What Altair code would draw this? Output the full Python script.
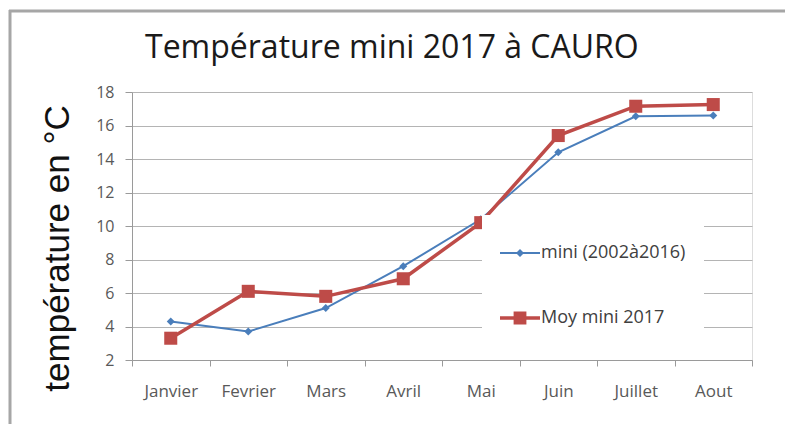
import altair as alt
import pandas as pd

months = ["Janvier", "Fevrier", "Mars", "Avril", "Mai", "Juin", "Juillet", "Aout"]
series_names = ["mini (2002à2016)", "Moy mini 2017"]
mini_2002_2016 = [4.3, 3.7, 5.1, 7.6, 10.4, 14.4, 16.55, 16.6]
moy_mini_2017 = [3.3, 6.1, 5.8, 6.85, 10.2, 15.4, 17.15, 17.25]
y_ticks = [2, 4, 6, 8, 10, 12, 14, 16, 18]
colors = ["#4A7EBB", "#BE4B48"]
widths = [2, 3.5]

rows = []
for m, v in zip(months, mini_2002_2016):
    rows.append({"mois": m, "serie": series_names[0], "valeur": v})
for m, v in zip(months, moy_mini_2017):
    rows.append({"mois": m, "serie": series_names[1], "valeur": v})
df = pd.DataFrame(rows)

FONT_C = "Open Sans"
FONT_A = "Liberation Sans"

# legend symbols: line segment + marker (custom SVG paths)
legend_shapes = [
    "M-1,-0.05H1V0.05H-1Z M0,-0.2L0.2,0L0,0.2L-0.2,0Z",
    "M-1,-0.09H1V0.09H-1Z M-0.32,-0.32H0.32V0.32H-0.32Z",
]

legend = alt.Legend(
    title=None,
    orient="none",
    legendX=350,
    legendY=123,
    fillColor="white",
    padding=18,
    rowPadding=36,
    symbolSize=1600,
    symbolStrokeWidth=0,
    symbolOpacity=1,
    labelOffset=1,
    labelFont=FONT_C,
    labelFontSize=18,
    labelColor="#404040",
    labelLimit=300,
)

x_enc = alt.X(
    "mois:N",
    sort=months,
    bandPosition=0.5,
    scale=alt.Scale(type="band", paddingInner=0, paddingOuter=0),
    axis=alt.Axis(
        title=None,
        tickBand="extent",
        grid=False,
        labelAngle=0,
        tickSize=6,
        tickColor="#9a9a9a",
        domainColor="#9a9a9a",
        labelPadding=17,
        labelFont=FONT_C,
        labelFontSize=17,
        labelColor="#595959",
    ),
)
y_enc = alt.Y(
    "valeur:Q",
    scale=alt.Scale(domain=[2, 18], nice=False, zero=False),
    axis=alt.Axis(
        values=y_ticks,
        title="température en °C",
        titleFont=FONT_A,
        titleFontSize=35,
        titleFontWeight="normal",
        titleColor="#111111",
        titleX=-75,
        titleY=156,
        titleAngle=270,
        titleAlign="center",
        titleBaseline="middle",
        tickSize=7,
        tickColor="#9a9a9a",
        domainColor="#9a9a9a",
        gridColor="#b4b4b4",
        labelPadding=11,
        labelFont=FONT_C,
        labelFontSize=16,
        labelColor="#595959",
    ),
)
color_scale = alt.Scale(domain=series_names, range=colors)

base = alt.Chart(df).encode(x=x_enc, y=y_enc)

legend_layer = base.transform_filter("false").mark_point(filled=True).encode(
    color=alt.Color("serie:N", scale=color_scale, legend=legend),
    shape=alt.Shape(
        "serie:N", scale=alt.Scale(domain=series_names, range=legend_shapes), legend=legend
    ),
)

layers = []
markers = [("diamond", 64), ("square", 170)]
for i, name in enumerate(series_names):
    sub = base.transform_filter(alt.datum.serie == name)
    layers.append(sub.mark_line(color=colors[i], strokeWidth=widths[i]))
for i, name in enumerate(series_names):
    sub = base.transform_filter(alt.datum.serie == name)
    layers.append(
        sub.mark_point(filled=True, opacity=1, shape=markers[i][0], size=markers[i][1], color=colors[i])
    )

frame_data = alt.Data(values=[{"k": 1}])
frame_left = alt.Chart(frame_data).mark_rule(color="#a6a6a6", strokeWidth=3, clip=False).encode(
    x=alt.value(-122), y=alt.value(-82), y2=alt.value(600)
)
frame_top = alt.Chart(frame_data).mark_rule(color="#a6a6a6", strokeWidth=3, clip=False).encode(
    x=alt.value(-123), x2=alt.value(900), y=alt.value(-81)
)

chart = alt.layer(legend_layer, frame_left, frame_top, *layers).properties(
    width=620,
    height=268,
    title=alt.TitleParams(
        "Température mini 2017 à CAURO",
        font=FONT_C,
        fontSize=32,
        fontWeight="normal",
        color="#1a1a1a",
        anchor="start",
        frame="group",
        dx=13,
        dy=56,
        offset=0,
    ),
    autosize=alt.AutoSizeParams(type="none"),
    padding={"left": 124, "top": 84, "right": 33, "bottom": 64},
).configure_view(stroke=None).configure(background="white")

chart.save("out.html", embed_options={"renderer": "svg", "actions": False})
